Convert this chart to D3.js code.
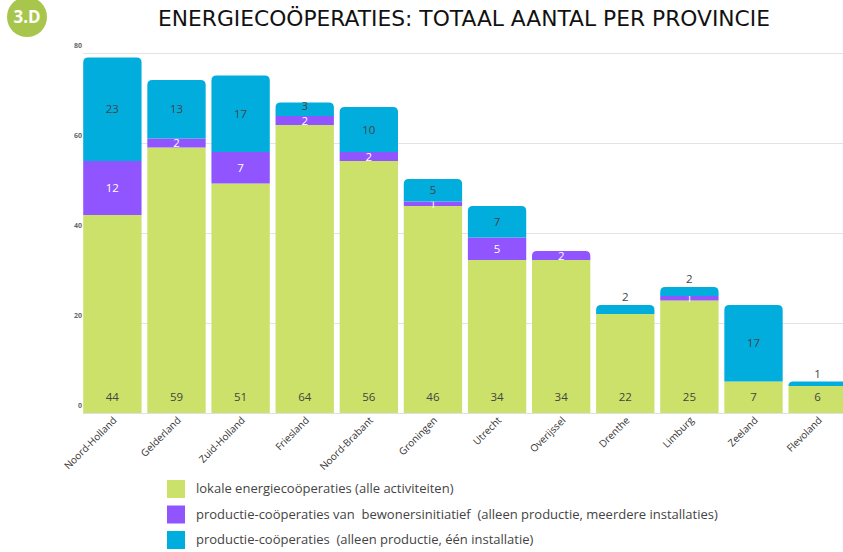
<!DOCTYPE html>
<html lang="nl">
<head>
  <meta charset="utf-8">
  <script src="https://d3js.org/d3.v7.min.js"></script>
  <style>
    body { margin: 0; background: #fff; font-family: "Open Sans", sans-serif; }
    .grid line { stroke: #e3e3e3; stroke-width: 1px; }
    .ylab { font-size: 7px; font-weight: bold; fill: #666; }
    .xlab { font-size: 10px; fill: #333; }
    .seg { font-size: 11.5px; }
    .leg { font-size: 13px; fill: #444; white-space: pre; }
  </style>
</head>
<body>
<svg id="chart" width="843" height="552"></svg>
<script>
  let provinces = ["Noord-Holland", "Gelderland", "Zuid-Holland", "Friesland", "Noord-Brabant",
    "Groningen", "Utrecht", "Overijssel", "Drenthe", "Limburg", "Zeeland", "Flevoland"];
  let lokaal    = [44, 59, 51, 64, 56, 46, 34, 34, 22, 25, 7, 6];
  let bewoners  = [12, 2, 7, 2, 2, 1, 5, 2, 0, 1, 0, 0];
  let productie = [23, 13, 17, 3, 10, 5, 7, 0, 2, 2, 17, 1];
  let yTicks = [0, 20, 40, 60, 80];
  let seriesNames = [
    "lokale energiecoöperaties (alle activiteiten)",
    "productie-coöperaties van  bewonersinitiatief  (alleen productie, meerdere installaties)",
    "productie-coöperaties  (alleen productie, één installatie)"
  ];
  let colors = ["#cbe16a", "#9155ff", "#00addc"];

  let svg = d3.select("#chart");

  // badge + title
  svg.append("circle").attr("cx", 27).attr("cy", 17).attr("r", 20).style("fill", "#a9c64c");
  svg.append("text").attr("x", 27).attr("y", 23).attr("text-anchor", "middle")
    .style("fill", "white").style("font-weight", "bold").style("font-size", "17px")
    .text("3.D");
  svg.append("text").attr("x", 158).attr("y", 26)
    .attr("textLength", 612).attr("lengthAdjust", "spacingAndGlyphs")
    .style("font-family", "'DejaVu Sans', sans-serif")
    .style("font-size", "21px").style("fill", "#111")
    .text("ENERGIECOÖPERATIES: TOTAAL AANTAL PER PROVINCIE");

  let x = d3.scaleBand().domain(provinces).range([80, 850]).paddingInner(0.09).paddingOuter(0.05);
  let y = d3.scaleLinear().domain([0, 80]).range([413, 53]);

  // grid
  let grid = svg.append("g").attr("class", "grid");
  grid.selectAll("line").data(yTicks).join("line")
    .attr("x1", 83).attr("x2", 843)
    .attr("y1", d => y(d) + 0.5).attr("y2", d => y(d) + 0.5);
  svg.append("g").selectAll("text").data(yTicks).join("text")
    .attr("class", "ylab").attr("text-anchor", "end")
    .attr("x", 82).attr("y", d => y(d) - 5)
    .text(d => d);

  let table = provinces.map((p, i) => ({ p: p, v: [lokaal[i], bewoners[i], productie[i]] }));

  function topRounded(x0, y0, w, h, r) {
    r = Math.min(r, h);
    return "M" + x0 + "," + (y0 + h) + "V" + (y0 + r) +
      "Q" + x0 + "," + y0 + " " + (x0 + r) + "," + y0 +
      "H" + (x0 + w - r) + "Q" + (x0 + w) + "," + y0 + " " + (x0 + w) + "," + (y0 + r) +
      "V" + (y0 + h) + "Z";
  }

  let bars = svg.append("g");
  table.forEach(function (d) {
    let bx = x(d.p), bw = x.bandwidth();
    let cum = 0;
    let last = d.v.reduce((a, v, k) => v > 0 ? k : a, 0);
    d.v.forEach(function (v, k) {
      if (v <= 0) return;
      let y0 = y(cum + v), h = y(cum) - y(cum + v);
      if (k === last) {
        bars.append("path").attr("d", topRounded(bx, y0, bw, h, 5)).style("fill", colors[k]);
      } else {
        bars.append("rect").attr("x", bx).attr("y", y0).attr("width", bw).attr("height", h)
          .style("fill", colors[k]);
      }
      // value labels
      let lx = bx + bw / 2, ly;
      if (k === 0) ly = 401;
      else if (k === 2 && h < 12) ly = y0 - 4;
      else if (k === 2 && h < 16) ly = y0 + h / 2 + 1;
      else ly = y0 + h / 2 + 4;
      bars.append("text").attr("class", "seg").attr("x", lx).attr("y", ly)
        .attr("text-anchor", "middle")
        .style("fill", k === 1 ? "white" : "#444")
        .text(v);
      cum += v;
    });
  });

  // baseline
  svg.append("line").attr("x1", 83).attr("x2", 843).attr("y1", 413.5).attr("y2", 413.5)
    .style("stroke", "#d6e3ea");

  // x labels
  svg.append("g").selectAll("text").data(provinces).join("text")
    .attr("class", "xlab").attr("text-anchor", "end")
    .attr("transform", d => "translate(" + (x(d) + x.bandwidth() / 2 + 5) + ",421) rotate(-45)")
    .text(d => d);

  // legend
  let legend = svg.append("g").attr("transform", "translate(167,480)");
  seriesNames.forEach(function (name, i) {
    legend.append("rect").attr("x", 0).attr("y", i * 25.5).attr("width", 18).attr("height", 18)
      .style("fill", colors[i]);
    legend.append("text").attr("class", "leg").attr("x", 29).attr("y", i * 25.5 + 13)
      .attr("xml:space", "preserve").text(name);
  });
</script>
</body>
</html>
